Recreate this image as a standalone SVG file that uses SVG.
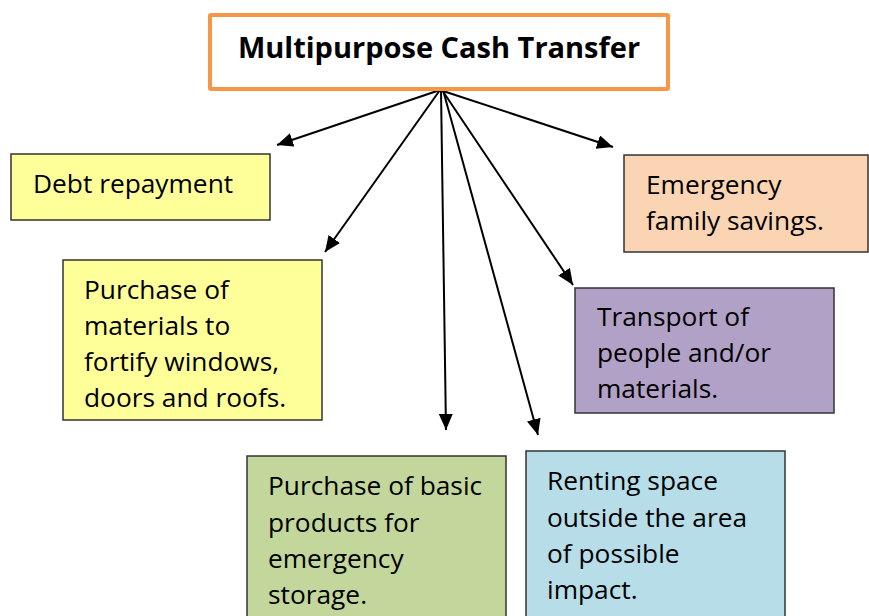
<svg xmlns="http://www.w3.org/2000/svg" width="869" height="616" viewBox="0 0 869 616">
<defs>
<style>
.box{stroke:#333;stroke-width:1.5}
.t{font-family:"Open Sans","Noto Sans","DejaVu Sans",sans-serif;font-size:26.3px;fill:#000}
.title{font-family:"Open Sans","Noto Sans","DejaVu Sans",sans-serif;font-size:29px;font-weight:bold;fill:#000}
.c{stroke:#000;stroke-width:2;fill:none;marker-end:url(#ah)}
</style>
<marker id="ah" markerUnits="userSpaceOnUse" markerWidth="20" markerHeight="16" refX="16" refY="7" orient="auto" viewBox="0 0 20 16">
<path d="M0,0 L16,7 L0,14 Z" fill="#000"/>
</marker>
</defs>
<rect width="869" height="616" fill="#fff"/>
<g id="connectors">
<line class="c" x1="440" y1="90" x2="277" y2="145"/>
<line class="c" x1="440" y1="90" x2="613" y2="147"/>
<line class="c" x1="440" y1="90" x2="325" y2="252"/>
<line class="c" x1="441" y1="90" x2="446" y2="430"/>
<line class="c" x1="443" y1="90" x2="538" y2="435"/>
<line class="c" x1="442" y1="90" x2="573" y2="285"/>
</g>
<g id="root">
<rect x="210" y="15" width="458" height="74" fill="#fff" stroke="#F79646" stroke-width="4" rx="1"/>
<text class="title" x="439" y="58" text-anchor="middle">Multipurpose Cash Transfer</text>
</g>
<g id="debt">
<rect class="box" x="11" y="154" width="259" height="66" fill="#FFFF99"/>
<text class="t" x="33" y="193">Debt repayment</text>
</g>
<g id="fortify">
<rect class="box" x="63" y="260" width="259" height="160" fill="#FFFF99"/>
<text class="t" x="84"><tspan x="84" y="299">Purchase of</tspan><tspan x="84" y="335">materials to</tspan><tspan x="84" y="371">fortify windows,</tspan><tspan x="84" y="407">doors and roofs.</tspan></text>
</g>
<g id="savings">
<rect class="box" x="624" y="155" width="244" height="97" fill="#FBD4B4"/>
<text class="t" x="646"><tspan x="646" y="194">Emergency</tspan><tspan x="646" y="230">family savings.</tspan></text>
</g>
<g id="transport">
<rect class="box" x="575" y="288" width="259" height="125" fill="#B2A1C7"/>
<text class="t" x="597"><tspan x="597" y="326">Transport of</tspan><tspan x="597" y="362">people and/or</tspan><tspan x="597" y="398">materials.</tspan></text>
</g>
<g id="storage">
<rect class="box" x="247" y="456" width="259" height="170" fill="#C3D69B"/>
<text class="t" x="268"><tspan x="268" y="495">Purchase of basic</tspan><tspan x="268" y="532">products for</tspan><tspan x="268" y="568">emergency</tspan><tspan x="268" y="604">storage.</tspan></text>
</g>
<g id="renting">
<rect class="box" x="526" y="451" width="259" height="175" fill="#B7DDE8"/>
<text class="t" x="547"><tspan x="547" y="490">Renting space</tspan><tspan x="547" y="527">outside the area</tspan><tspan x="547" y="563">of possible</tspan><tspan x="547" y="599">impact.</tspan></text>
</g>
</svg>
